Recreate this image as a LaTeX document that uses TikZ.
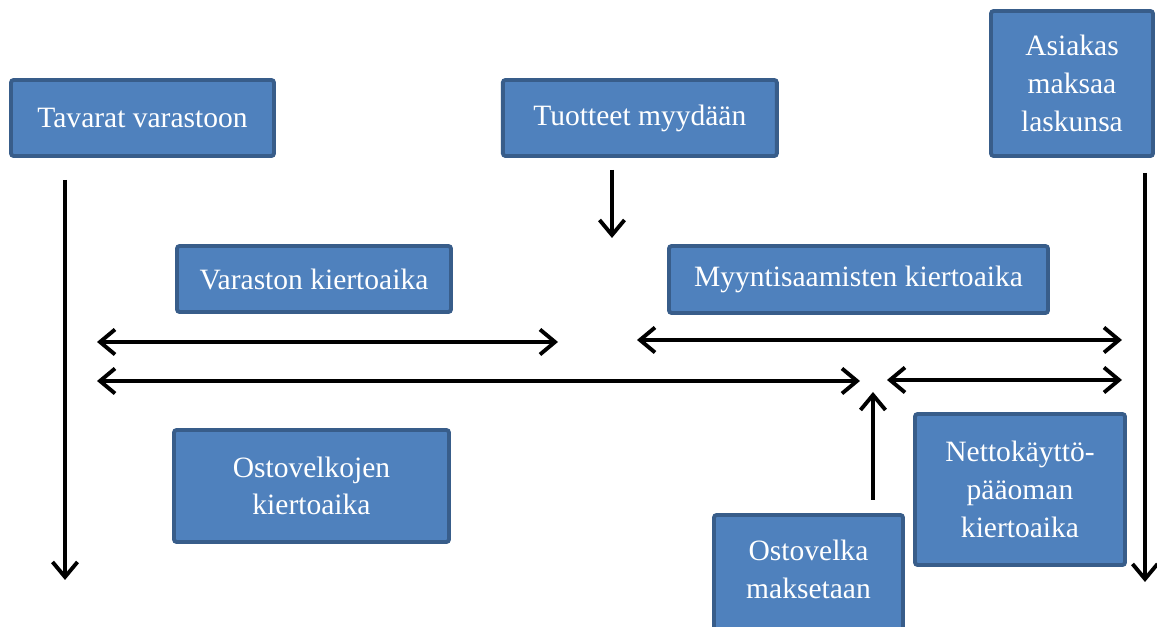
\documentclass[tikz,border=0pt]{standalone}
\usepackage{fontspec}
\setmainfont{Liberation Serif}
\definecolor{laatikkoSini}{RGB}{79,129,189}
\definecolor{reunaSini}{RGB}{56,93,138}
\usetikzlibrary{arrows.meta,positioning,shadows}
\tikzset{
  laatikko/.style={rectangle, draw=reunaSini, line width=2.2pt, fill=laatikkoSini,
                   rounded corners=1.5pt, align=center, text=white, inner sep=0pt,
                   font=\fontsize{16.8}{21.5}\selectfont,
                   drop shadow={opacity=0.2, shadow xshift=0.8pt, shadow yshift=-0.8pt}},
  nuoli/.style={->, >={Straight Barb[length=3mm, width=5mm]}, line width=2.2pt, black},
  kaksinuoli/.style={nuoli, <->},
}

\begin{document}
\begin{tikzpicture}[node distance=0.5cm]
  \useasboundingbox (0,0) rectangle (23.14,12.54);
  \clip (0,0) rectangle (23.14,12.54);
  % laatikot
  \node[laatikko, minimum width=5.26cm, minimum height=1.52cm] (a) at (2.85,10.18) {Tavarat varastoon};
  \node[laatikko, minimum width=5.48cm, minimum height=1.52cm, right=4.5cm of a] (b) {Tuotteet myydään};
  \node[laatikko, minimum width=3.24cm, minimum height=2.9cm] (c) at (21.44,10.87) {Asiakas\\maksaa\\laskunsa};
  \node[laatikko, minimum width=5.48cm, minimum height=1.32cm] (d) at (6.28,6.96) {Varaston kiertoaika};
  \node[laatikko, minimum width=7.58cm, minimum height=1.34cm] (e) at (17.17,6.95) {Myyntisaamisten kiertoaika};
  \node[laatikko, minimum width=5.5cm, minimum height=2.24cm] (f) at (6.23,2.82) {Ostovelkojen\\kiertoaika};
  \node[laatikko, minimum width=4.2cm, minimum height=3.02cm] (g) at (20.40,2.75) {Nettokäyttö-\\pääoman\\kiertoaika};
  \node[laatikko, minimum width=3.78cm, minimum height=2.5cm, text depth=0.32cm] (h) at (16.17,0.99) {Ostovelka\\maksetaan};

  % nuolten päät
  \coordinate (vasYla) at (1.30,8.94);
  \coordinate (vasAla) at (1.30,0.94);
  \coordinate (oikYla) at (22.90,9.08);
  \coordinate (oikAla) at (22.90,0.90);
  \coordinate (myyYla) at (12.24,9.14);
  \coordinate (myyAla) at (12.24,7.78);
  \coordinate (r1a) at (1.94,5.70);
  \coordinate (r1b) at (11.16,5.70);
  \coordinate (r1c) at (12.74,5.74);
  \coordinate (r1d) at (22.44,5.74);
  \coordinate (r2a) at (1.94,4.92);
  \coordinate (r2b) at (17.20,4.92);
  \coordinate (r2c) at (17.74,4.94);
  \coordinate (r2d) at (22.44,4.94);
  \coordinate (ostAla) at (17.46,2.54);
  \coordinate (ostYla) at (17.46,4.70);

  % nuolet
  \draw[nuoli] (vasYla) -- (vasAla);
  \draw[nuoli] (oikYla) -- (oikAla);
  \draw[nuoli] (myyYla) -- (myyAla);
  \draw[kaksinuoli] (r1a) -- (r1b);
  \draw[kaksinuoli] (r1c) -- (r1d);
  \draw[kaksinuoli] (r2a) -- (r2b);
  \draw[kaksinuoli] (r2c) -- (r2d);
  \draw[nuoli] (ostAla) -- (ostYla);
\end{tikzpicture}
\end{document}
